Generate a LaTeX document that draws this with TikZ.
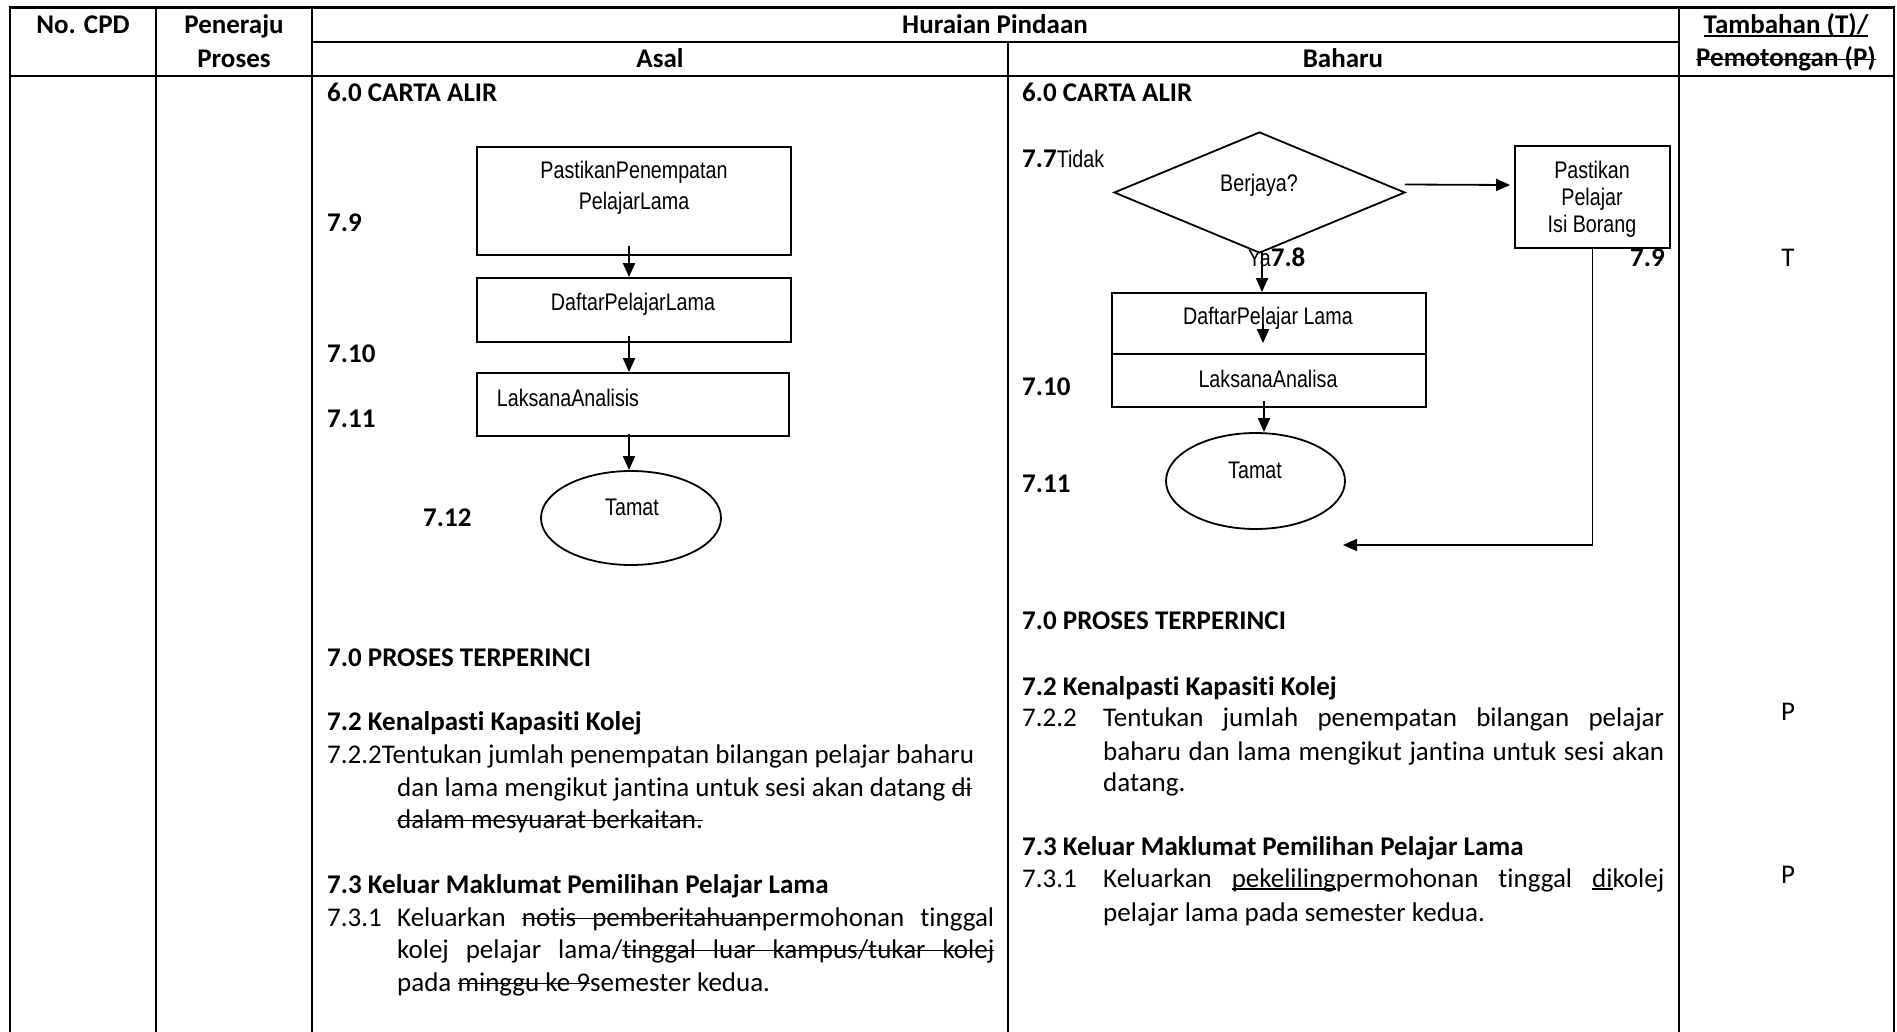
\documentclass[tikz,border=0pt]{standalone}
\usepackage{fontspec}
\setmainfont{Carlito}[Ligatures={NoCommon,NoContextual}]
\newfontfamily\arialf[FakeStretch=0.82]{Liberation Sans}
\usetikzlibrary{shapes.geometric,arrows.meta,calc}
\newsavebox\stbox
\newcommand\strk[1]{\sbox\stbox{#1}\rlap{\rule[0.25em]{\wd\stbox}{1.4pt}}\usebox\stbox}
\newcommand\undl[1]{\sbox\stbox{#1}\rlap{\rule[-0.1em]{\wd\stbox}{1.4pt}}\usebox\stbox}
\newcommand\sspace{\leaders\hrule height 0.302em depth -0.25em\hskip\fontdimen2\font plus\fontdimen3\font minus\fontdimen4\font}
\tikzset{
  gridline/.style={line width=2.4pt},
  fbox/.style={draw, line width=1.8pt, rectangle, inner sep=0pt},
  fell/.style={draw, line width=1.8pt, ellipse, inner sep=0pt},
  fdia/.style={draw, fill=white, line width=1.8pt, diamond, inner sep=0pt},
  arr/.style={line width=1.8pt, -{Triangle[length=14pt,width=12pt]}},
  ftxt/.style={font=\arialf\fontsize{24}{27}\selectfont, align=center, inner sep=0pt},
  body/.style={font=\fontsize{27}{33}\selectfont, anchor=base west, inner sep=0pt},
  bodyb/.style={body, font=\fontsize{27}{33}\selectfont\bfseries},
  hdr/.style={font=\fontsize{27}{33}\selectfont\bfseries, anchor=base, inner sep=0pt},
  pmark/.style={font=\fontsize{27}{33}\selectfont, anchor=base, inner sep=0pt},
}
\begin{document}
\begin{tikzpicture}[x=1pt,y=-1pt]
\useasboundingbox (0,0) rectangle (1897,1032);
\fill[white] (0,0) rectangle (1897,1032);
% table grid
\draw[gridline, line join=miter] (10,1032) -- (10,7.5) -- (1894,7.5) -- (1894,1032);
\draw[gridline] (10,76) -- (1894,76);
\draw[gridline] (312,42) -- (1679,42);
\foreach \x in {156,312,1679} \draw[gridline] (\x,7.5) -- (\x,1032);
\draw[gridline] (1008,42) -- (1008,1032);
% header
\node[hdr] (h1) at (83,34) {No. CPD};
\node[hdr] (h2) at (234,34) {Peneraju};
\node[hdr] (h3) at (234,68) {Proses};
\node[hdr] (h4) at (995,34) {Huraian Pindaan};
\node[hdr] (h5) at (660,68) {Asal};
\node[hdr] (h6) at (1343,68) {Baharu};
\node[hdr] (h7) at (1786,34) {\undl{Tambahan (T)/}};
\node[hdr] (h8) at (1786,67) {\strk{Pemotongan (P)}};
% ---- Asal flowchart
\node[bodyb] (ta) at (327,102) {6.0 CARTA ALIR};
\node[fbox, minimum width=314pt, minimum height=108pt] (a1) at (634,201) {};
\node[ftxt] (a1t) at (634,188) {PastikanPenempatan\\[4pt]PelajarLama};
\node[fbox, minimum width=314pt, minimum height=64pt] (a2) at (634,310) {};
\node[ftxt] (a2t) at (633,304) {DaftarPelajarLama};
\node[fbox, minimum width=312pt, minimum height=63pt] (a3) at (633,404.5) {};
\node[ftxt] (a3t) at (568,398) {LaksanaAnalisis};
\node[fell, minimum width=180pt, minimum height=94pt] (a4) at (631,518) {};
\node[ftxt] (a4t) at (632,507) {Tamat};
\draw[arr] ($(a1.south)+(-5,-10)$) -- ($(a2.north)+(-5,0)$);
\draw[arr] ($(a2.south)+(-5,-7)$) -- ($(a3.north)+(-4,0)$);
\draw[arr] ($(a3.south)+(-4,-3)$) -- ($(a4.north)+(-2,0)$);
\node[bodyb] (la1) at (327,232) {7.9};
\node[bodyb] (la2) at (327,362) {7.10};
\node[bodyb] (la3) at (327,427) {7.11};
\node[bodyb] (la4) at (423,526) {7.12};
% ---- Baharu flowchart
\node[bodyb] (tb) at (1022,102) {6.0 CARTA ALIR};
\node[body] (lb0) at (1248,266) {{\arialf\fontsize{24}{27}\selectfont Ya}\bfseries 7.8};
\node[fdia, minimum width=291pt, minimum height=121pt] (b1) at (1259.5,192.5) {};
\node[ftxt] (b1t) at (1259,185) {Berjaya?};
\node[fbox, minimum width=155pt, minimum height=102pt] (b2) at (1592.5,197) {};
\node[ftxt] (b2t) at (1592,199) {Pastikan\\Pelajar\\Isi Borang};
\node[fbox, minimum width=314pt, minimum height=61pt] (b3) at (1269,323.5) {};
\node[ftxt] (b3t) at (1268,318) {DaftarPelajar Lama};
\node[fbox, minimum width=314pt, minimum height=53pt] (b4) at (1269,380.5) {};
\node[ftxt] (b4t) at (1268,379) {LaksanaAnalisa};
\node[fell, minimum width=179pt, minimum height=96pt] (b5) at (1255.5,481) {};
\node[ftxt] (b5t) at (1255,470) {Tamat};
\coordinate (b6) at (1343,545);
\draw[arr] ($(b1.east)+(-1,-8)$) -- ($(b2.west)+(-4,-12)$);
\draw[arr] ($(b1.south)+(2.5,-3)$) -- ($(b3.north)+(-7,0)$);
\draw[arr] ($(b3.center)+(-6,0)$) -- ($(b4.north)+(-6,-10)$);
\draw[arr] ($(b4.south)+(-5,-7)$) -- ($(b5.north)+(8.5,0)$);
\draw[arr] (b2.south) -- (b2.south |- b6) -- (b6);
\node[body] (lb1) at (1022,168) {\bfseries 7.7\mdseries\arialf\fontsize{24}{27}\selectfont Tidak};
\node[bodyb, anchor=base east] (lb2) at (1665,266) {7.9};
\node[bodyb] (lb3) at (1022,395) {7.10};
\node[bodyb] (lb4) at (1022,492) {7.11};
% ---- Asal text
\node[bodyb] (p1) at (327,666) {7.0 PROSES TERPERINCI};
\node[bodyb] (p2) at (327,730) {7.2 Kenalpasti Kapasiti Kolej};
\node[body] (p3) at (327,763) {7.2.2Tentukan jumlah penempatan bilangan pelajar baharu};
\node[body] (p4) at (397,796) {dan lama mengikut jantina untuk sesi akan datang \strk{di}};
\node[body] (p5) at (397,828) {\strk{dalam mesyuarat berkaitan.}};
\node[bodyb] (p6) at (327,893) {7.3 Keluar Maklumat Pemilihan Pelajar Lama};
\node[body] (p7) at (327,926) {7.3.1};
\node[body] (p8) at (397,926) {\makebox[597pt][s]{Keluarkan \strk{notis}\sspace\strk{pemberitahuan}permohonan tinggal}};
\node[body] (p9) at (397,958) {\makebox[597pt][s]{kolej pelajar lama/\strk{tinggal}\sspace\strk{luar}\sspace\strk{kampus/tukar}\sspace\strk{kolej}}};
\node[body] (p10) at (397,991) {pada \strk{minggu ke 9}semester kedua.};
% ---- Baharu text
\node[bodyb] (q1) at (1022,629) {7.0 PROSES TERPERINCI};
\node[bodyb] (q2) at (1022,695) {7.2 Kenalpasti Kapasiti Kolej};
\node[body] (q3) at (1022,726) {7.2.2};
\node[body] (q4) at (1103,726) {\makebox[561pt][s]{Tentukan jumlah penempatan bilangan pelajar}};
\node[body] (q5) at (1103,760) {\makebox[561pt][s]{baharu dan lama mengikut jantina untuk sesi akan}};
\node[body] (q6) at (1103,791) {datang.};
\node[bodyb] (q7) at (1022,855) {7.3 Keluar Maklumat Pemilihan Pelajar Lama};
\node[body] (q8) at (1022,887) {7.3.1};
\node[body] (q9) at (1103,887) {\makebox[561pt][s]{Keluarkan \undl{pekeliling}permohonan tinggal \undl{di}kolej}};
\node[body] (q10) at (1103,921) {pelajar lama pada semester kedua.};
% ---- T / P column
\node[pmark] (m1) at (1788,266) {T};
\node[pmark] (m2) at (1788,720) {P};
\node[pmark] (m3) at (1788,883) {P};
\end{tikzpicture}
\end{document}
